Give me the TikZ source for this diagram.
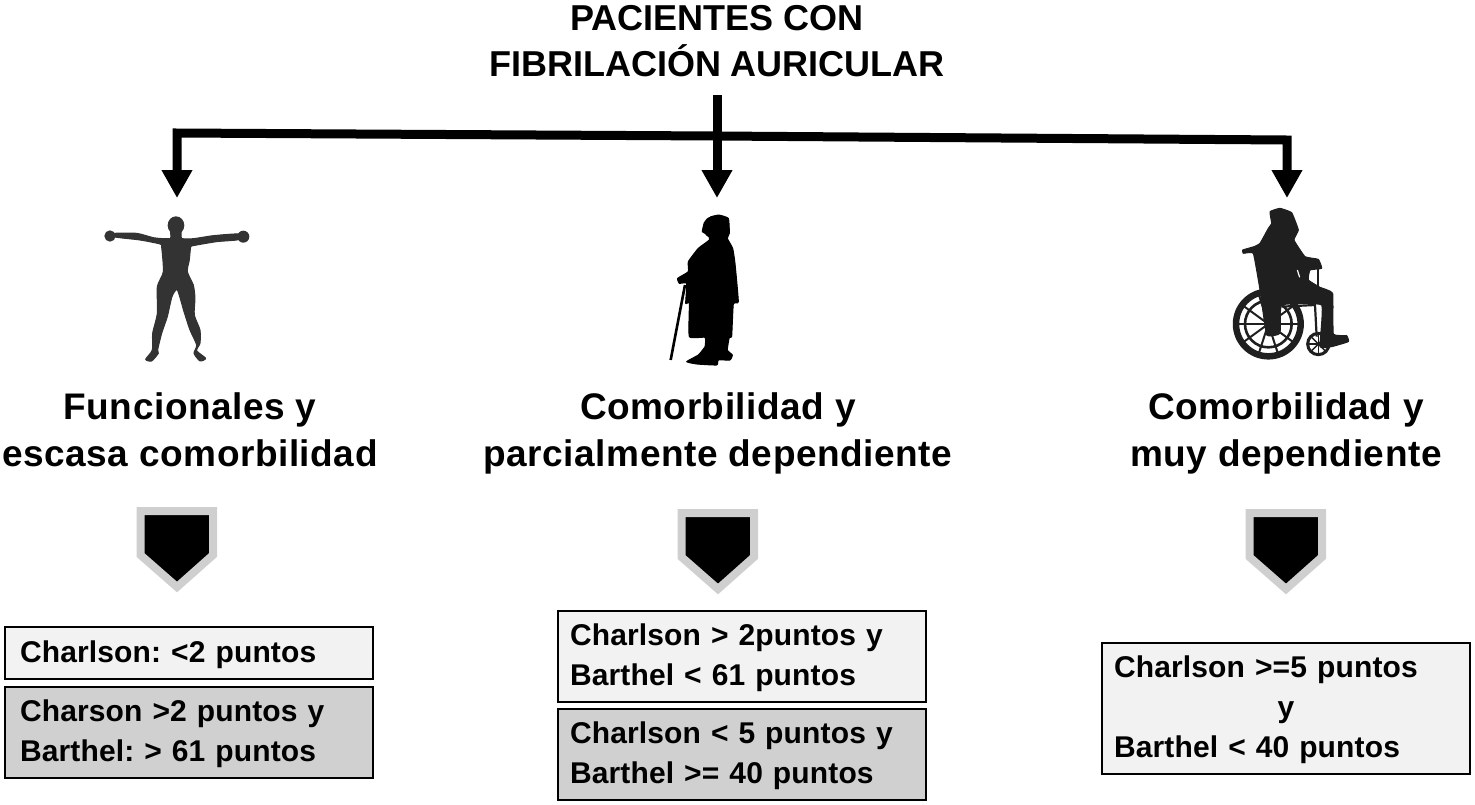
\documentclass[tikz,border=0pt]{standalone}
\usepackage{fontspec}
\setmainfont{Liberation Sans}
\newfontfamily\headfont[LetterSpace=1.5]{Liberation Sans}
\newfontfamily\boxfont[LetterSpace=.5]{Liberation Sans}
\frenchspacing
\usetikzlibrary{arrows.meta}
\definecolor{paleBox}{HTML}{F2F2F2}
\definecolor{darkBox}{HTML}{D0D0D0}
\definecolor{pointerRim}{HTML}{CFCFCF}
\definecolor{figureGray}{HTML}{333333}
\definecolor{chairGray}{HTML}{1F1F1F}
\tikzset{
  title/.style={
    font=\bfseries\fontsize{36}{46}\selectfont,
    text=black,
    align=center
  },
  group/.style={
    font=\headfont\bfseries\fontsize{37}{47}\selectfont,
    text=black,
    align=center
  },
  criteria/.style={
    draw=black,
    line width=2pt,
    minimum width=368pt,
    text width=344pt,
    inner xsep=12pt,
    inner ysep=0pt,
    align=left,
    font=\boxfont\bfseries\fontsize{30}{40}\selectfont,
    text=black,
    execute at begin node={\rule{0pt}{26pt}}
  },
  inset/.style={text width=338pt,inner xsep=15pt},
  pale/.style={criteria,fill=paleBox},
  dark/.style={criteria,fill=darkBox},
  flow/.style={
    draw=black,
    line width=9pt,
    miter limit=10,
    -{Triangle[length=28pt,width=29pt]}
  },
  pointer/.pic={
    \draw[draw=pointerRim,fill=black,line width=8pt,miter limit=10]
      (-36.5,4) -- (36,4) -- (36,48) -- (0,80) -- (-36.5,48) -- cycle;
  }
}

\begin{document}
\begin{tikzpicture}[x=1pt,y=-1pt]
  \useasboundingbox (0,0) rectangle (1475,804);

  \node[title] (patients) at (717,41) {PACIENTES CON\\FIBRILACIÓN AURICULAR};

  \coordinate (busmid)   at (717,136);
  \coordinate (busleft)  at (177,133);
  \coordinate (busright) at (1287,140);
  \coordinate (tipleft)  at (177,198);
  \coordinate (tipmid)   at (717,198);
  \coordinate (tipright) at (1287,198);

  \draw[flow] (busmid) -- (busleft) -- (tipleft);
  \draw[flow] (busmid) -- (busright) -- (tipright);
  \draw[flow,shorten <=15pt] (patients.south) -- (tipmid);

  % standing figure
  \begin{scope}[shift={(80,190)},x=.3333pt,y=-.3333pt]
    \fill[figureGray] (288,106) ellipse[x radius=25,y radius=27];
    \fill[figureGray] (90,138) circle[radius=17];
    \fill[figureGray] (490,140) circle[radius=18];
    \filldraw[figureGray,line width=1pt,line join=round] plot[smooth cycle,tension=.4] coordinates {
      (275,120) (302,120) (305,145) (340,146) (400,137) (475,132) (475,149)
      (410,155) (340,167) (332,172) (328,210) (322,245) (340,285) (345,325)
      (343,375) (360,420) (360,460) (350,482) (377,505) (360,513) (342,490)
      (350,465) (330,420) (312,365) (292,300) (276,320) (262,380) (245,430)
      (233,480) (235,490) (215,513) (197,508) (217,480) (218,430) (232,370)
      (232,290) (250,245) (245,172) (240,162) (180,150) (105,141) (105,130)
      (170,130) (220,143) (252,146) (272,145) (272,130)};
  \end{scope}

  % figure with cane
  \begin{scope}[shift={(640,190)},x=.3333pt,y=-.3333pt]
    \fill[black] (228,112) ellipse[x radius=40,y radius=36];
    \filldraw[black,line width=1pt,line join=round] plot[smooth cycle,tension=.25] coordinates {
      (205,85) (235,75) (265,85) (268,130) (262,145) (278,175) (285,220) (295,335)
      (280,342) (275,440) (268,442) (262,480) (277,495) (270,510) (235,510) (230,525)
      (170,522) (140,515) (175,495) (195,470) (195,442) (148,440) (148,340) (137,340)
      (140,280) (118,280) (113,265) (145,245) (145,215) (175,175) (208,150) (205,135)
      (187,125) (192,105)};
    \draw[black,line width=2.6pt] (135,285) -- (92,510);
  \end{scope}

  % figure in wheelchair
  \begin{scope}[shift={(1210,190)},x=.3333pt,y=-.3333pt]
    \draw[chairGray,line width=6.5pt] (175,402) circle[radius=97];
    \draw[chairGray,line width=2.6pt] (175,402) circle[radius=70];
    \foreach \ang in {0,36,...,324}
      \draw[chairGray,line width=2pt] (175,402) -- ++(\ang:94);
    \draw[chairGray,line width=3pt] (325,462) circle[radius=32];
    \foreach \ang in {0,45,...,315}
      \draw[chairGray,line width=1.4pt] (325,462) -- ++(\ang:30);
    \draw[chairGray,line width=2.2pt] (215,350) -- (315,345) -- (320,440);
    \draw[chairGray,line width=2.2pt] (325,225) -- (325,290);
    \filldraw[chairGray,line width=1pt,line join=round] plot[smooth cycle,tension=.2] coordinates {
      (180,65) (210,55) (245,68) (265,120) (252,150) (285,200) (325,208)
      (335,235) (300,240) (295,270) (330,292) (368,310) (370,432) (410,437) (415,455)
      (365,470) (330,470) (335,345) (215,345) (210,430) (170,435) (150,300) (130,190)
      (100,190) (98,180) (132,170) (150,160) (175,115) (185,100)};
    \draw[white,line width=1.2pt] (262,240) -- (269,262);
  \end{scope}

  \node[group] (functional) at (190,430) {Funcionales y\\escasa comorbilidad};
  \node[group] (partial)    at (718,433) {Comorbilidad y\\parcialmente dependiente};
  \node[group] (dependent)  at (1286,433) {Comorbilidad y\\muy dependiente};

  \pic at (177,507) {pointer};
  \pic at (718,509) {pointer};
  \pic at (1286,509) {pointer};

  \node[pale,inset,minimum height=52pt] (lowscore)  at (189,653) {Charlson: <2 puntos};
  \node[dark,inset,minimum height=91pt] (highscore) at (189,732) {Charson >2 puntos y\\Barthel: > 61 puntos};

  \node[pale,minimum height=91pt] (midupper) at (742,656) {Charlson > 2puntos y\\Barthel < 61 puntos};
  \node[dark,minimum height=91pt] (midlower) at (742,754) {Charlson < 5 puntos y\\Barthel >= 40 puntos};

  \node[pale,minimum height=131pt] (severe) at (1286,708) {Charlson >=5 puntos\\\makebox[\linewidth][c]{y}\\Barthel < 40 puntos};
\end{tikzpicture}
\end{document}
